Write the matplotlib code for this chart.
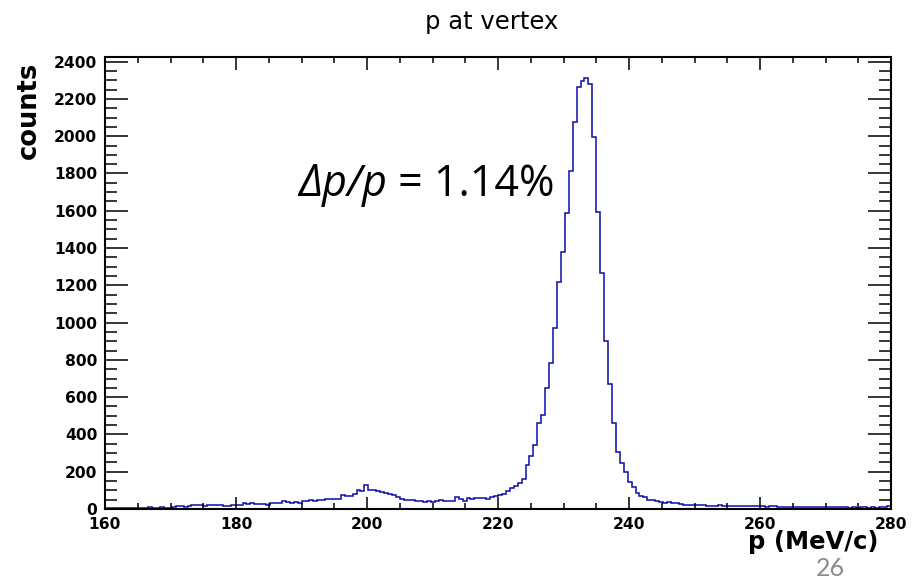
import numpy as np
import matplotlib
matplotlib.use("Agg")
import matplotlib.pyplot as plt
from matplotlib.ticker import MultipleLocator

# ---- data -------------------------------------------------------------
x_min, x_max, n_bins = 160.0, 280.0, 200
counts = [
    4, 6, 5, 7, 6, 5, 8, 6, 7, 5, 8, 12,
    8, 7, 9, 8, 7,
    10, 16, 15, 12, 14,
    20, 19, 21, 18, 20, 19,
    24, 23, 18, 17, 21, 20, 22,
    30, 29, 31, 28, 29, 28,
    22,
    33, 32, 34,
    44, 38, 33, 39, 30, 41, 43, 47, 44, 46, 49, 56, 51, 55, 52,
    74, 70, 71, 78, 102, 98, 130, 104, 100, 97,
    90, 85, 80, 75, 66, 56, 50, 47, 46, 45,
    42, 40, 41, 40, 42, 46, 45, 44, 43, 63,
    55, 44, 57, 54, 60, 60, 60, 54, 66, 70,
    74, 82, 97, 110, 123, 138, 163, 236, 286, 342,
    460, 506, 651, 785, 973, 1216, 1380, 1586, 1815, 2078,
    2262, 2296, 2314, 2278, 1996, 1592, 1265, 903, 670, 464,
    307, 245, 198, 145, 116, 84, 68, 64, 50, 48,
    45, 39, 34, 36, 33, 30, 27, 24, 22, 21,
    20, 19, 20, 18, 17, 18, 19, 17, 16, 18,
    17, 16, 15, 16, 14, 15, 16, 14, 13, 14,
    14, 13, 12, 13, 12, 11, 12, 11, 12, 10,
    11, 10, 11, 9, 10, 11, 9, 10, 9, 8,
    9, 8, 9, 10, 8, 9, 8, 9, 10, 15,
]
y_max = 2425
title = "p at vertex"
xlabel = "p (MeV/c)"
ylabel = "counts"
annot_italic = "Δp/p"
annot_rest = " = 1.14%"
page_no = "26"

edges = np.linspace(x_min, x_max, n_bins + 1)

# ---- figure -----------------------------------------------------------
W, H = 918, 581
fig = plt.figure(figsize=(W / 100, H / 100), dpi=100)
ax = fig.add_axes([105 / W, 1 - 509 / H, (891 - 105) / W, (509 - 57) / H])

ax.stairs(counts, edges, color="#0c0ca8", linewidth=1.1)
ax.set_xlim(x_min, x_max)
ax.set_ylim(0, y_max)

for s in ax.spines.values():
    s.set_linewidth(1.5)

ax.xaxis.set_major_locator(MultipleLocator(20))
ax.xaxis.set_minor_locator(MultipleLocator(5))
ax.yaxis.set_major_locator(MultipleLocator(200))
ax.yaxis.set_minor_locator(MultipleLocator(50))

ax.tick_params(axis="both", which="both", direction="in", top=True, right=True,
               width=1.1, colors="black")
ax.tick_params(axis="x", which="major", length=9, pad=5.5)
ax.tick_params(axis="x", which="minor", length=4.5)
ax.tick_params(axis="y", which="major", length=16.5, pad=5.5)
ax.tick_params(axis="y", which="minor", length=8.5)

for lab in ax.get_xticklabels() + ax.get_yticklabels():
    lab.set_fontfamily("DejaVu Sans")
    lab.set_fontweight("bold")
    lab.set_fontsize(11.2)

# axis titles (ROOT style)
fig.text(879 / W, 1 - 549 / H, xlabel, ha="right", va="baseline",
         fontsize=17.5, fontweight="bold", family="DejaVu Sans")
fig.text(16 / W, 1 - 62 / H, ylabel, ha="left", va="top", rotation=90,
         fontsize=18.5, fontweight="bold", family="DejaVu Sans")
fig.text(491.5 / W, 1 - 28.5 / H, title, ha="center", va="baseline",
         fontsize=17.5, family="DejaVu Sans")

# annotation
fam = ["Open Sans", "DejaVu Sans"]
t1 = fig.text(298 / W, 1 - 196 / H, annot_italic, ha="left", va="baseline",
              fontsize=31, style="italic", family=fam)
fig.canvas.draw()
bb = t1.get_window_extent()
fig.text(bb.x1 / W, 1 - 196 / H, annot_rest, ha="left", va="baseline",
         fontsize=31, family=fam)

fig.text(830 / W, 1 - 576 / H, page_no, ha="center", va="baseline",
         fontsize=18, color="#8c8c8c", family=["Lato", "DejaVu Sans"])

fig.savefig("out.png", dpi=100)
